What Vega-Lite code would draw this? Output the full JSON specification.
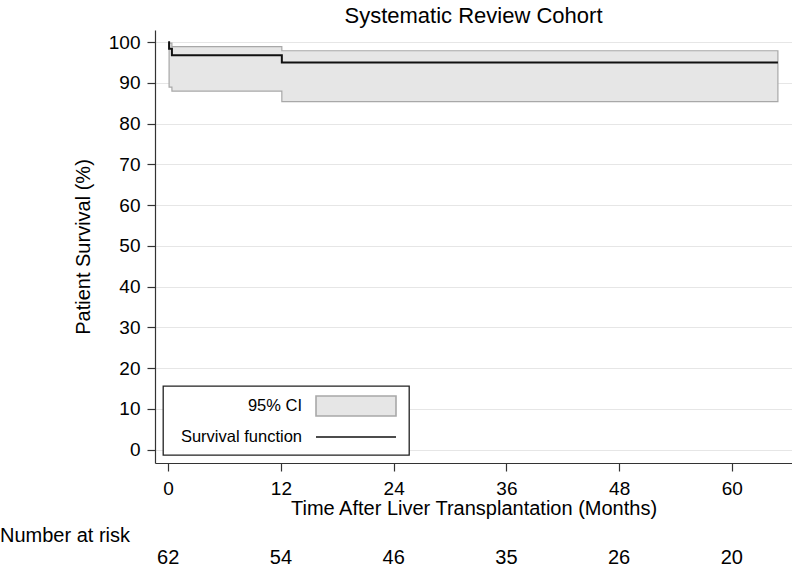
{
  "$schema": "https://vega.github.io/schema/vega-lite/v6.json",
  "padding": {"left": 0, "top": 5, "right": 0, "bottom": 0},
  "background": "white",
  "bounds": "flush",
  "spacing": 85,
  "resolve": {
    "scale": {"fill": "independent", "stroke": "independent", "shape": "independent"},
    "legend": {"fill": "independent", "stroke": "independent", "shape": "independent"}
  },
  "config": {
    "font": "Liberation Sans",
    "view": {"stroke": null},
    "axis": {
      "labelFont": "Liberation Sans",
      "titleFont": "Liberation Sans",
      "labelColor": "#000",
      "titleColor": "#000",
      "labelFontSize": 19,
      "titleFontSize": 20,
      "titleFontWeight": "normal",
      "domainColor": "#333",
      "tickColor": "#333",
      "domainWidth": 1.2,
      "tickWidth": 1.2,
      "tickSize": 8
    },
    "legend": {
      "orient": "bottom-left", "offset": 8, "padding": 9,
      "strokeColor": "#222", "strokeWidth": 1.3, "fillColor": "white",
      "labelFontSize": 16.5, "labelFont": "Liberation Sans", "labelColor": "#000",
      "labelAlign": "right", "labelOffset": -65, "symbolOffset": 173,
      "symbolSize": 400, "symbolStrokeWidth": 1.6, "symbolOpacity": 1,
      "rowPadding": 6, "labelLimit": 0
    },
    "title": {"font": "Liberation Sans", "fontWeight": "normal", "color": "#000"}
  },
  "datasets": {
    "km": [
      {"t": 0, "s": 100, "series": "Survival function"},
      {"t": 0.1, "s": 98.4, "series": "Survival function"},
      {"t": 0.4, "s": 96.8, "series": "Survival function"},
      {"t": 12.1, "s": 95.0, "series": "Survival function"},
      {"t": 64.9, "s": 95.0, "series": "Survival function"}
    ],
    "ci": [
      {"t": 0.1, "lo": 89.0, "hi": 99.8, "series": "95% CI"},
      {"t": 0.4, "lo": 88.0, "hi": 98.9, "series": "95% CI"},
      {"t": 12.1, "lo": 85.4, "hi": 97.9, "series": "95% CI"},
      {"t": 64.9, "lo": 85.4, "hi": 97.9, "series": "95% CI"}
    ],
    "risk": [
      {"t": 0, "n": 62},
      {"t": 12, "n": 54},
      {"t": 24, "n": 46},
      {"t": 36, "n": 35},
      {"t": 48, "n": 26},
      {"t": 60, "n": 20}
    ]
  },
  "vconcat": [
    {
      "width": 637,
      "height": 433,
      "title": {"text": "Systematic Review Cohort", "fontSize": 22, "anchor": "middle", "frame": "group", "baseline": "alphabetic", "offset": -15},
      "layer": [
        {
          "data": {"name": "ci"},
          "mark": {"type": "area", "interpolate": "step-after", "fill": "#e6e6e6", "stroke": "#a8a8a8", "strokeWidth": 1.2},
          "encoding": {
            "x": {"field": "t", "type": "quantitative", "scale": {"domain": [-1.4, 66.4], "nice": false, "zero": false},
                  "axis": {"values": [0, 12, 24, 36, 48, 60], "grid": false, "labelPadding": 8, "titlePadding": 0, "title": "Time After Liver Transplantation (Months)"}},
            "y": {"field": "lo", "type": "quantitative", "scale": {"domain": [-3.3, 103], "nice": false, "zero": false},
                  "axis": {"values": [0, 10, 20, 30, 40, 50, 60, 70, 80, 90, 100], "grid": true, "gridColor": "#e6e6e6", "gridWidth": 1, "labelPadding": 7, "titlePadding": 15, "title": "Patient Survival (%)"}},
            "y2": {"field": "hi"}
          }
        },
        {
          "data": {"name": "km"},
          "mark": {"type": "line", "interpolate": "step-after", "strokeWidth": 2, "color": "#111111"},
          "encoding": {
            "x": {"field": "t", "type": "quantitative"},
            "y": {"field": "s", "type": "quantitative"}
          }
        },
        {
          "data": {"name": "ci"},
          "mark": {"type": "point", "opacity": 0, "filled": true},
          "encoding": {
            "x": {"field": "t", "type": "quantitative"},
            "y": {"field": "lo", "type": "quantitative"},
            "fill": {"field": "series", "type": "nominal", "title": null,
                     "scale": {"domain": ["95% CI", "Survival function"], "range": ["#e6e6e6", "transparent"]}},
            "stroke": {"field": "series", "type": "nominal", "title": null,
                       "scale": {"domain": ["95% CI", "Survival function"], "range": ["#a8a8a8", "#111111"]}},
            "shape": {"field": "series", "type": "nominal", "title": null,
                      "scale": {"domain": ["95% CI", "Survival function"], "range": ["M-4,-1H4V1H-4Z", "M-4,0H4"]}}
          }
        },
        {
          "data": {"name": "km"},
          "mark": {"type": "point", "opacity": 0, "filled": true},
          "encoding": {
            "x": {"field": "t", "type": "quantitative"},
            "y": {"field": "s", "type": "quantitative"},
            "fill": {"field": "series", "type": "nominal", "title": null},
            "stroke": {"field": "series", "type": "nominal", "title": null},
            "shape": {"field": "series", "type": "nominal", "title": null}
          }
        }
      ]
    },
    {
      "width": 637,
      "height": 20,
      "data": {"name": "risk"},
      "title": {"text": "Number at risk", "fontSize": 20, "anchor": "start", "frame": "group", "dx": -155, "baseline": "alphabetic", "offset": -14},
      "mark": {"type": "text", "fontSize": 20, "font": "Liberation Sans", "color": "#000", "baseline": "middle"},
      "encoding": {
        "x": {"field": "t", "type": "quantitative", "scale": {"domain": [-1.4, 66.4], "nice": false, "zero": false}, "axis": null},
        "text": {"field": "n", "type": "quantitative"}
      }
    }
  ]
}
